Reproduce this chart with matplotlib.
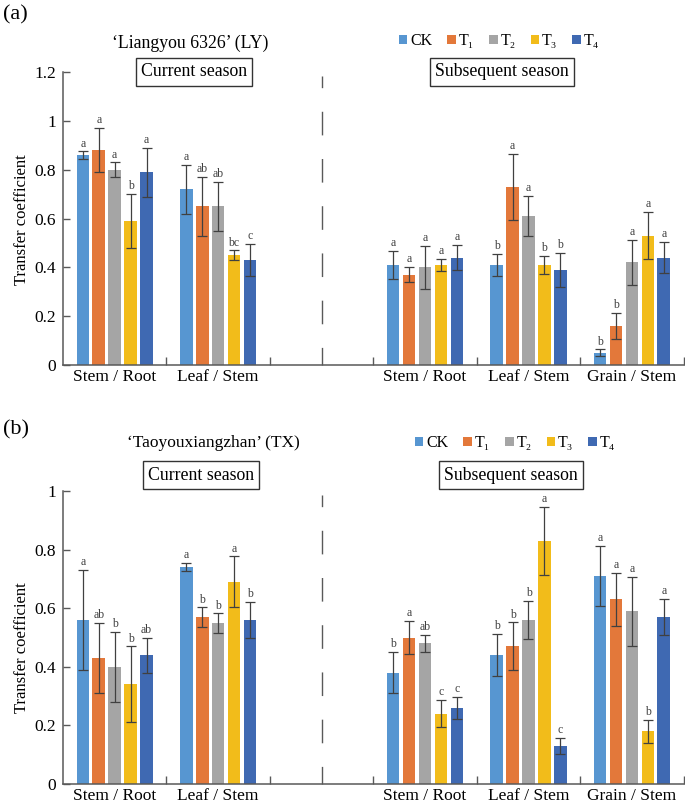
import numpy as np
import matplotlib
matplotlib.use("Agg")
import matplotlib.pyplot as plt
from matplotlib.patches import Patch

plt.rcParams['font.family'] = ['Liberation Serif', 'DejaVu Serif']

nan = np.nan
treatments = ['CK', 'T\u2081', 'T\u2082', 'T\u2083', 'T\u2084']
colors = ['#5796D1', '#E3783A', '#A5A5A5', '#F2BC1A', '#3F69B2']
categories = ['Stem / Root', 'Leaf / Stem', '', 'Stem / Root', 'Leaf / Stem', 'Grain / Stem']

# ---- (a) Liangyou 6326 ----
ly_CK = [0.86, 0.72, nan, 0.41, 0.41, 0.05]
ly_T1 = [0.88, 0.65, nan, 0.37, 0.73, 0.16]
ly_T2 = [0.80, 0.65, nan, 0.40, 0.61, 0.42]
ly_T3 = [0.59, 0.45, nan, 0.41, 0.41, 0.53]
ly_T4 = [0.79, 0.43, nan, 0.44, 0.39, 0.44]
ly_err_CK = [0.015, 0.10, nan, 0.057, 0.045, 0.014]
ly_err_T1 = [0.09, 0.12, nan, 0.032, 0.135, 0.055]
ly_err_T2 = [0.03, 0.10, nan, 0.087, 0.082, 0.092]
ly_err_T3 = [0.11, 0.02, nan, 0.024, 0.037, 0.097]
ly_err_T4 = [0.10, 0.066, nan, 0.052, 0.07, 0.064]
ly_let_CK = ['a', 'a', '', 'a', 'b', 'b']
ly_let_T1 = ['a', 'ab', '', 'a', 'a', 'b']
ly_let_T2 = ['a', 'ab', '', 'a', 'a', 'a']
ly_let_T3 = ['b', 'bc', '', 'a', 'b', 'a']
ly_let_T4 = ['a', 'c', '', 'a', 'b', 'a']

# ---- (b) Taoyouxiangzhan ----
tx_CK = [0.56, 0.74, nan, 0.38, 0.44, 0.71]
tx_T1 = [0.43, 0.57, nan, 0.50, 0.47, 0.63]
tx_T2 = [0.40, 0.55, nan, 0.48, 0.56, 0.59]
tx_T3 = [0.34, 0.69, nan, 0.24, 0.83, 0.18]
tx_T4 = [0.44, 0.56, nan, 0.26, 0.13, 0.57]
tx_err_CK = [0.17, 0.014, nan, 0.07, 0.072, 0.103]
tx_err_T1 = [0.12, 0.033, nan, 0.057, 0.082, 0.091]
tx_err_T2 = [0.12, 0.033, nan, 0.03, 0.066, 0.118]
tx_err_T3 = [0.13, 0.087, nan, 0.047, 0.117, 0.04]
tx_err_T4 = [0.06, 0.062, nan, 0.038, 0.028, 0.0625]
tx_let_CK = ['a', 'a', '', 'b', 'b', 'a']
tx_let_T1 = ['ab', 'b', '', 'a', 'b', 'a']
tx_let_T2 = ['b', 'b', '', 'ab', 'b', 'a']
tx_let_T3 = ['b', 'a', '', 'c', 'a', 'b']
tx_let_T4 = ['ab', 'b', '', 'c', 'c', 'a']

ly_ticks = [0, 0.2, 0.4, 0.6, 0.8, 1, 1.2]
ly_ticklabels = ['0', '0.2', '0.4', '0.6', '0.8', '1', '1.2']
tx_ticks = [0, 0.2, 0.4, 0.6, 0.8, 1]
tx_ticklabels = ['0', '0.2', '0.4', '0.6', '0.8', '1']

W, H = 685, 805
fig = plt.figure(figsize=(W / 100, H / 100), dpi=100)

AX_COL = '#595959'
ERR_COL = '#404040'


def fx(px):
    return px / W


def fy(py):
    return 1 - py / H


def panel(rect, means, errs, lets, ymax, ticks, ticklabels):
    ax = fig.add_axes(rect)
    x = np.arange(len(categories))
    step = 0.154
    width = 0.122
    for i, (m, e, l, c) in enumerate(zip(means, errs, lets, colors)):
        xi = x + (i - 2) * step
        m = np.array(m, dtype=float)
        e = np.array(e, dtype=float)
        ax.bar(xi, m, width=width, color=c, zorder=2)
        ax.errorbar(xi, m, yerr=e, fmt='none', ecolor=ERR_COL, elinewidth=0.9,
                    capsize=3.6, capthick=0.9, zorder=3)
        for xx, mm, ee, ll in zip(xi, m, e, l):
            if ll and not np.isnan(mm):
                ax.annotate(ll, (xx, mm + ee), xytext=(0, 1.2), textcoords='offset points',
                            ha='center', va='bottom', fontsize=8.5, color='#404040')
    ax.set_xlim(-0.5, len(categories) - 0.5)
    ax.set_ylim(0, ymax)
    ax.set_xticks(x)
    ax.set_xticklabels(categories, fontsize=12.5)
    ax.set_xticks(np.arange(0.5, len(categories), 1), minor=True)
    ax.tick_params(axis='x', which='major', length=0, pad=3)
    ax.tick_params(axis='x', which='minor', direction='in', length=6, color=AX_COL, width=1)
    ax.set_yticks(ticks)
    ax.set_yticklabels(ticklabels, fontsize=12.5)
    ax.tick_params(axis='y', direction='in', length=5, color=AX_COL, width=1, pad=5)
    for s in ['top', 'right']:
        ax.spines[s].set_visible(False)
    for s in ['left', 'bottom']:
        ax.spines[s].set_color(AX_COL)
        ax.spines[s].set_linewidth(1.1)
    # divider between seasons at the empty category
    div = categories.index('')
    ax.plot([div, div], [ymax * 0.985, 0], color='#595959', lw=1.0,
            linestyle=(8.6, (17, 17)), zorder=1, clip_on=False)
    return ax


ax1 = panel([fx(63), fy(365), fx(685 - 63) - 0.002, (365 - 72) / H],
            [ly_CK, ly_T1, ly_T2, ly_T3, ly_T4],
            [ly_err_CK, ly_err_T1, ly_err_T2, ly_err_T3, ly_err_T4],
            [ly_let_CK, ly_let_T1, ly_let_T2, ly_let_T3, ly_let_T4],
            1.2, ly_ticks, ly_ticklabels)

ax2 = panel([fx(63), fy(784), fx(685 - 63) - 0.002, (784 - 491) / H],
            [tx_CK, tx_T1, tx_T2, tx_T3, tx_T4],
            [tx_err_CK, tx_err_T1, tx_err_T2, tx_err_T3, tx_err_T4],
            [tx_let_CK, tx_let_T1, tx_let_T2, tx_let_T3, tx_let_T4],
            1.0, tx_ticks, tx_ticklabels)

box = dict(boxstyle='square,pad=0.3', fc='white', ec='#333333', lw=1.0)

# panel (a) texts
fig.text(fx(3), fy(15), '(a)', fontsize=16, ha='left', va='center')
fig.text(fx(190), fy(43), '\u2018Liangyou 6326\u2019 (LY)', fontsize=12.8, ha='center', va='center')
fig.text(fx(194), fy(72), 'Current season', fontsize=12.8, ha='center', va='center', bbox=box)
fig.text(fx(502), fy(72), 'Subsequent season', fontsize=12.8, ha='center', va='center', bbox=box)
fig.text(fx(22), fy(220), 'Transfer coefficient', fontsize=12, rotation=90, ha='center', va='center')

# panel (b) texts
fig.text(fx(3), fy(430), '(b)', fontsize=16, ha='left', va='center')
fig.text(fx(213), fy(443), '\u2018Taoyouxiangzhan\u2019 (TX)', fontsize=12.5, ha='center', va='center')
fig.text(fx(201), fy(475), 'Current season', fontsize=12.8, ha='center', va='center', bbox=box)
fig.text(fx(511), fy(475), 'Subsequent season', fontsize=12.8, ha='center', va='center', bbox=box)
fig.text(fx(22), fy(648), 'Transfer coefficient', fontsize=12, rotation=90, ha='center', va='center')

handles = [Patch(facecolor=c, label=t) for c, t in zip(colors, treatments)]
for cx, cy in [(499, 41), (515, 443)]:
    fig.legend(handles=handles, loc='center', bbox_to_anchor=(fx(cx), fy(cy)), ncol=5,
               frameon=False, fontsize=11.5, handlelength=0.52, handleheight=0.52,
               handletextpad=0.18, columnspacing=0.95, borderpad=0)

fig.savefig('out.png', dpi=100)
